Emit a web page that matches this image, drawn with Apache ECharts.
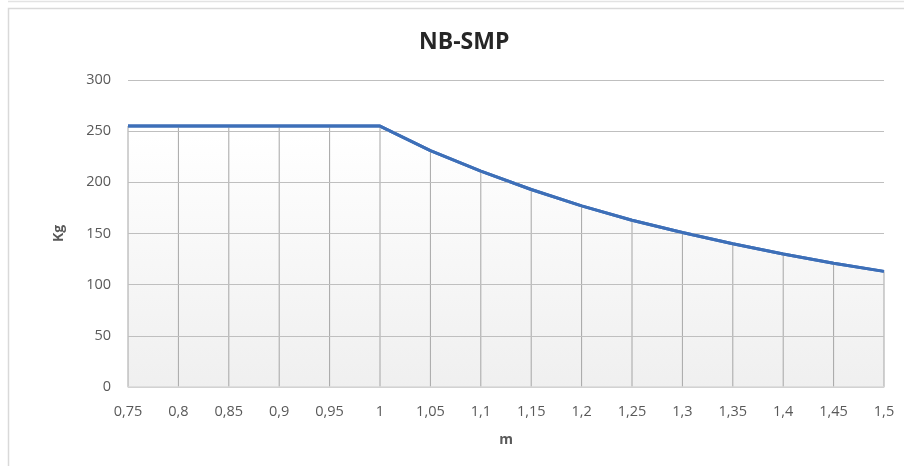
<!DOCTYPE html>
<html>
<head>
<meta charset="utf-8">
<style>
  html, body { margin: 0; padding: 0; background: #fff; }
  #chart { width: 904px; height: 466px; }
</style>
<script src="https://cdn.jsdelivr.net/npm/echarts@6/dist/echarts.min.js"></script>
</head>
<body>
<div id="chart"></div>
<script>
// Reach (m) against permitted load (Kg)
const reach = ['0,75', '0,8', '0,85', '0,9', '0,95', '1', '1,05', '1,1', '1,15', '1,2', '1,25', '1,3', '1,35', '1,4', '1,45', '1,5'];
const load = [255, 255, 255, 255, 255, 255, 231, 211, 193, 177, 163, 151, 140, 130, 121, 113];
const loadTicks = [0, 50, 100, 150, 200, 250, 300];

const chart = echarts.init(document.getElementById('chart'));
const labelFont = "'Open Sans', 'DejaVu Sans', sans-serif";

chart.setOption({
  animation: false,
  title: {
    text: 'NB-SMP',
    left: 414,
    top: 26,
    textStyle: { fontFamily: labelFont, fontSize: 23, fontWeight: 'bold', color: '#262626' }
  },
  graphic: [
    { type: 'line', shape: { x1: 8, y1: 1.5, x2: 904, y2: 1.5 }, style: { stroke: '#e3e3e3', lineWidth: 1.5 } },
    { type: 'polyline', shape: { points: [[8.5, 466], [8.5, 8.5], [904, 8.5]] }, style: { stroke: '#d9d9d9', lineWidth: 1.5, fill: null } }
  ],
  grid: { left: 128, right: 20, top: 80, bottom: 79 },
  xAxis: {
    type: 'category',
    data: reach,
    boundaryGap: false,
    name: 'm',
    nameLocation: 'middle',
    nameGap: 46,
    nameTextStyle: { fontFamily: labelFont, fontSize: 14, fontWeight: 'bold', color: '#595959' },
    axisLine: { lineStyle: { color: '#d9d9d9', width: 1.5 } },
    axisTick: { show: false },
    axisLabel: { fontFamily: labelFont, fontSize: 14.5, color: '#595959', margin: 17 },
    splitLine: { show: false },
    z: 4
  },
  yAxis: {
    type: 'value',
    min: loadTicks[0],
    max: loadTicks[loadTicks.length - 1],
    interval: 50,
    name: 'Kg',
    nameLocation: 'middle',
    nameGap: 62,
    nameRotate: 90,
    nameTextStyle: { fontFamily: labelFont, fontSize: 14, fontWeight: 'bold', color: '#595959' },
    axisLine: { show: false },
    axisTick: { show: false },
    axisLabel: { fontFamily: labelFont, fontSize: 14.5, color: '#595959', margin: 17 },
    splitLine: { lineStyle: { color: '#bfbfbf', width: 1 } },
    z: 4
  },
  series: [
    {
      // vertical drop lines from each point down to the axis
      type: 'bar',
      data: load,
      barWidth: 1,
      itemStyle: { color: '#a6a6a6' },
      z: 3,
      silent: true
    },
    {
      type: 'line',
      data: load,
      symbol: 'none',
      lineStyle: { color: '#3d6fb8', width: 3 },
      areaStyle: {
        color: new echarts.graphic.LinearGradient(0, 0, 0, 1, [
          { offset: 0, color: '#ffffff' },
          { offset: 1, color: '#e8e8e8' }
        ])
      },
      z: 2
    },
    {
      // keeps the curve drawn above grid lines
      type: 'line',
      data: load,
      symbol: 'none',
      lineStyle: { color: '#3d6fb8', width: 3 },
      z: 6,
      silent: true
    }
  ]
});
</script>
</body>
</html>
